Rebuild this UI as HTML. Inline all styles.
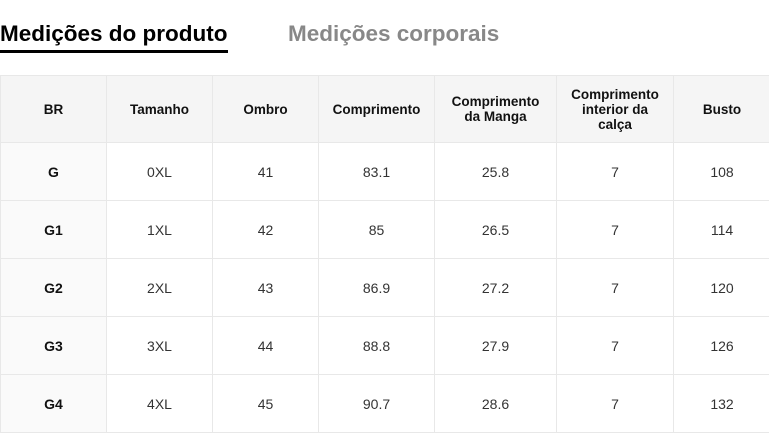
<!DOCTYPE html>
<html><head><meta charset="utf-8"><style>
body{margin:0;width:769px;height:432px;background:#fff;font-family:"Liberation Sans",Arial,sans-serif;position:relative;overflow:hidden}
.t{position:absolute;top:21px;font-size:22.5px;font-weight:bold;white-space:nowrap}
.u{position:absolute;left:0;top:50px;width:228px;height:3px;background:#000}
table{position:absolute;left:0;top:75px;border-collapse:collapse;table-layout:fixed;width:770px}
td{border:1px solid #e8e8e8;text-align:center;font-size:14px;color:#333;height:57px;padding:0}
tr.h td{background:#f5f5f5;font-weight:bold;color:#111;font-size:13.5px;height:66px;line-height:15px}
td.f{font-weight:bold;color:#111;background:#fafafa}
</style></head><body>
<div class="t" style="left:0;color:#000">Medições do produto</div>
<div class="u"></div>
<div class="t" style="left:288px;color:#888">Medições corporais</div>
<table>
<colgroup><col style="width:106px"><col style="width:106px"><col style="width:106px"><col style="width:116px"><col style="width:122px"><col style="width:117px"><col style="width:97px"></colgroup>
<tr class="h"><td>BR</td><td>Tamanho</td><td>Ombro</td><td>Comprimento</td><td>Comprimento<br>da Manga</td><td>Comprimento<br>interior da<br>calça</td><td>Busto</td></tr>
<tr><td class="f">G</td><td>0XL</td><td>41</td><td>83.1</td><td>25.8</td><td>7</td><td>108</td></tr>
<tr><td class="f">G1</td><td>1XL</td><td>42</td><td>85</td><td>26.5</td><td>7</td><td>114</td></tr>
<tr><td class="f">G2</td><td>2XL</td><td>43</td><td>86.9</td><td>27.2</td><td>7</td><td>120</td></tr>
<tr><td class="f">G3</td><td>3XL</td><td>44</td><td>88.8</td><td>27.9</td><td>7</td><td>126</td></tr>
<tr><td class="f">G4</td><td>4XL</td><td>45</td><td>90.7</td><td>28.6</td><td>7</td><td>132</td></tr>
</table>
</body></html>
